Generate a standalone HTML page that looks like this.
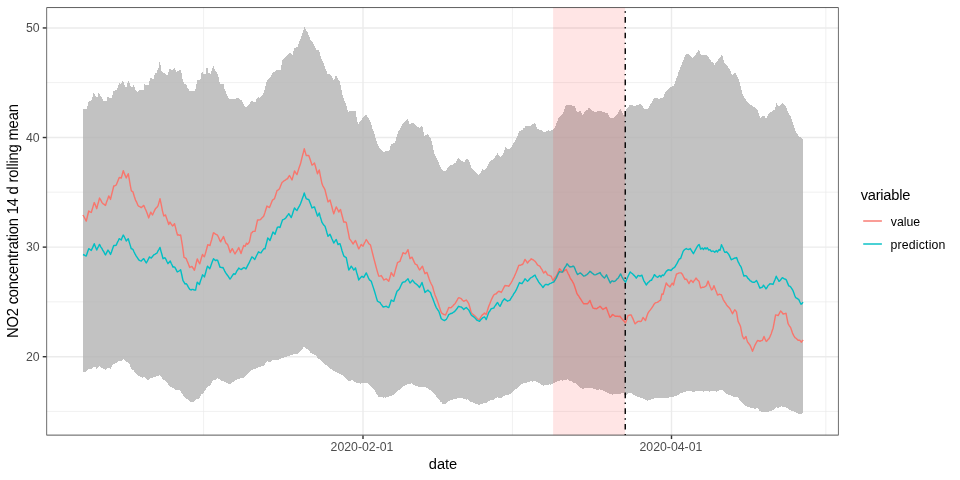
<!DOCTYPE html>
<html lang="en">
<head>
<meta charset="utf-8">
<title>NO2 concentration 14 d rolling mean</title>
<style>
html,body{margin:0;padding:0;background:#fff;}
body{width:960px;height:480px;overflow:hidden;font-family:"Liberation Sans",Arial,Helvetica,sans-serif;}
svg text{white-space:pre;}
</style>
</head>
<body>
<svg width="960" height="480" viewBox="0 0 960 480" style="display:block">
<rect x="0" y="0" width="960" height="480" fill="#ffffff"/>
<clipPath id="panel"><rect x="46.40" y="7.33" width="792.25" height="428.07"/></clipPath>
<g clip-path="url(#panel)">
<g stroke="#ebebeb" stroke-width="0.71" fill="none">
<line x1="46.4" x2="838.6" y1="82.60" y2="82.60"/>
<line x1="46.4" x2="838.6" y1="192.20" y2="192.20"/>
<line x1="46.4" x2="838.6" y1="301.80" y2="301.80"/>
<line x1="46.4" x2="838.6" y1="411.40" y2="411.40"/>
<line y1="7.3" y2="435.4" x1="203.60" x2="203.60"/>
<line y1="7.3" y2="435.4" x1="512.40" x2="512.40"/>
<line y1="7.3" y2="435.4" x1="825.80" x2="825.80"/>
</g>
<g stroke="#ebebeb" stroke-width="1.42" fill="none">
<line x1="46.4" x2="838.6" y1="27.95" y2="27.95"/>
<line x1="46.4" x2="838.6" y1="137.53" y2="137.53"/>
<line x1="46.4" x2="838.6" y1="247.12" y2="247.12"/>
<line x1="46.4" x2="838.6" y1="356.70" y2="356.70"/>
<line y1="7.3" y2="435.4" x1="363.00" x2="363.00"/>
<line y1="7.3" y2="435.4" x1="671.50" x2="671.50"/>
</g>
<polygon points="83.10,109.00 84.05,108.78 85.00,109.17 85.95,109.17 86.90,109.13 88.10,102.14 89.05,101.51 90.00,101.12 90.95,100.38 91.90,100.08 93.10,93.37 94.40,93.76 95.33,95.24 96.25,97.18 97.00,97.01 97.75,97.02 98.75,91.54 100.00,94.83 100.95,96.35 101.90,97.97 102.95,99.88 104.00,101.11 105.25,101.28 106.50,101.12 107.75,96.59 108.88,97.70 110.00,98.21 110.95,97.71 111.90,97.88 113.10,91.50 114.05,91.10 115.00,90.27 115.95,89.94 116.90,89.70 118.10,85.57 119.40,83.43 120.60,84.26 121.55,83.11 122.50,81.36 123.75,82.07 125.00,86.97 125.95,86.95 126.90,86.99 127.75,81.77 128.75,80.31 130.00,85.58 131.25,87.13 132.00,86.98 132.75,87.26 133.75,84.91 135.00,88.74 135.95,90.42 136.90,91.86 137.82,91.37 138.75,91.50 139.50,89.90 140.56,89.76 141.62,89.73 142.69,89.88 143.75,89.85 144.40,84.45 145.49,84.96 146.57,84.60 147.66,85.05 148.75,85.16 150.00,78.34 151.00,78.18 152.00,78.78 153.00,78.80 154.00,78.55 154.75,73.63 155.82,73.35 156.90,73.23 157.50,69.54 158.75,67.01 159.40,62.14 160.60,65.73 161.50,70.55 162.30,71.62 163.10,72.12 164.05,73.10 165.00,73.14 165.75,74.25 166.50,74.90 167.30,74.81 168.10,74.43 169.00,70.03 170.00,68.05 171.25,70.33 172.00,69.86 172.75,69.68 173.57,68.62 174.40,68.17 175.32,69.65 176.25,71.80 177.18,71.19 178.10,71.30 179.18,70.18 180.25,69.02 181.50,72.93 182.50,79.38 183.25,81.56 184.00,83.85 185.00,83.75 186.00,84.58 186.75,85.91 187.50,88.03 188.45,89.34 189.40,91.04 190.33,90.62 191.27,90.97 192.20,90.88 193.13,91.30 194.07,90.56 195.00,90.94 196.00,86.25 197.25,80.17 198.37,79.82 199.48,79.58 200.60,79.46 201.25,74.33 202.25,71.08 203.50,73.75 204.55,74.12 205.60,73.84 206.25,69.31 207.25,66.07 208.50,73.23 209.75,73.21 211.00,73.78 211.90,68.70 212.70,67.27 213.50,66.17 214.75,70.14 215.62,71.24 216.50,72.33 217.30,73.66 218.10,74.85 219.00,79.49 220.00,84.04 220.88,83.65 221.75,84.45 222.62,84.02 223.50,84.39 224.75,90.02 225.82,92.05 226.90,94.32 227.82,96.64 228.75,98.87 229.84,99.43 230.93,98.85 232.01,99.59 233.10,99.30 233.75,98.03 235.00,99.96 236.00,98.83 237.05,97.79 238.10,97.20 239.05,98.07 240.00,99.14 240.75,99.82 241.50,99.59 242.30,101.46 243.10,102.97 243.93,105.07 244.75,106.44 245.82,107.23 246.90,107.27 247.82,105.79 248.75,104.82 250.00,102.77 251.25,101.13 252.18,101.13 253.10,101.89 254.35,101.78 255.60,101.84 256.50,99.11 257.50,97.87 258.50,97.33 259.25,97.82 260.00,98.26 261.00,96.72 262.00,95.68 263.00,93.85 264.00,92.53 265.00,88.44 266.00,84.47 267.00,80.14 268.00,78.99 269.00,78.34 270.00,78.01 271.25,75.53 272.50,72.51 273.38,71.82 274.25,71.92 275.12,70.82 276.00,70.35 277.12,69.97 278.25,69.83 279.38,70.33 280.50,69.86 281.50,65.19 282.50,60.13 283.38,59.45 284.25,58.28 285.12,56.93 286.00,56.04 287.00,55.30 288.00,54.19 289.00,52.92 289.88,53.61 290.75,53.40 291.62,53.95 292.50,54.68 293.50,51.22 294.50,47.92 295.50,47.92 296.50,47.29 297.50,46.82 298.38,44.20 299.25,42.03 300.12,39.72 301.00,37.66 301.88,34.65 302.75,32.57 303.62,29.94 304.50,26.97 305.50,29.28 306.50,30.90 307.50,32.49 308.50,34.62 309.50,37.13 310.50,39.64 311.38,40.78 312.25,41.72 313.12,43.14 314.00,44.49 315.00,46.97 316.00,50.03 317.00,49.58 318.00,50.29 319.00,49.88 320.00,53.64 321.00,58.03 321.88,59.70 322.75,62.10 323.62,63.62 324.50,65.51 325.50,68.63 326.50,70.91 327.50,74.09 328.38,74.26 329.25,74.19 330.12,74.79 331.00,74.33 332.00,76.99 333.00,78.51 334.00,81.12 335.00,77.69 336.00,74.84 337.00,76.88 338.00,79.13 339.00,80.41 340.00,82.50 341.00,87.60 342.00,92.27 343.00,97.51 344.00,99.23 345.00,101.79 346.00,104.09 347.00,108.11 348.00,112.40 349.00,111.43 350.00,111.35 351.00,110.47 352.12,111.00 353.25,110.97 354.38,110.52 355.50,111.15 356.75,117.89 358.00,124.11 359.00,122.96 360.00,121.50 361.00,120.08 362.00,119.05 363.00,117.88 364.00,116.48 365.00,115.27 366.00,114.58 367.00,116.21 368.00,117.35 369.00,119.50 370.00,121.04 371.00,123.89 372.00,127.00 373.00,129.96 374.00,132.46 374.88,135.66 375.75,138.25 376.62,141.19 377.50,143.97 378.38,145.89 379.25,146.95 380.12,148.91 381.00,149.94 381.88,150.66 382.75,151.37 383.62,151.67 384.50,151.96 385.62,151.37 386.75,151.48 387.88,151.17 389.00,151.11 390.00,148.01 391.00,144.68 392.00,143.95 393.00,143.42 394.00,143.06 395.00,142.59 396.00,138.79 397.00,135.58 398.00,132.37 399.00,130.47 400.00,128.57 401.00,127.30 402.00,124.89 403.00,124.06 404.00,122.15 405.00,120.89 406.25,120.43 407.50,118.85 408.50,121.40 409.50,124.37 410.38,123.61 411.25,123.40 412.12,122.74 413.00,122.38 414.00,123.23 415.00,125.01 416.00,125.84 417.00,126.26 418.00,127.06 419.00,127.85 420.00,128.06 421.00,126.69 422.00,125.07 423.25,130.77 424.50,136.13 425.38,135.19 426.25,134.60 427.12,134.61 428.00,134.01 429.00,135.69 430.00,137.59 431.00,138.88 431.88,142.94 432.75,146.43 433.62,150.18 434.50,153.91 435.38,155.55 436.25,157.57 437.12,159.30 438.00,161.15 439.00,163.18 440.00,165.94 441.00,167.76 442.00,170.55 443.00,170.19 444.00,170.82 445.00,170.92 446.00,170.41 447.00,169.28 448.00,167.25 449.00,165.93 449.88,165.27 450.75,165.20 451.62,164.52 452.50,164.57 453.50,163.90 454.50,163.09 455.50,162.58 456.75,160.01 458.00,157.94 459.00,158.88 460.00,159.55 461.00,161.14 462.00,160.96 463.00,161.31 464.00,162.11 465.00,160.95 466.00,159.29 467.00,157.97 468.25,159.93 469.50,162.32 470.75,165.77 472.00,168.91 473.00,169.35 474.00,170.70 475.00,170.83 476.00,172.21 477.00,173.89 478.00,175.09 479.00,174.15 480.00,174.09 481.25,171.56 482.50,169.05 483.75,169.90 485.00,170.11 486.25,168.09 487.50,166.10 488.75,163.49 490.00,161.02 491.00,160.79 492.00,160.11 493.00,159.39 494.00,158.83 494.88,157.76 495.75,155.86 496.62,154.44 497.50,152.92 498.75,155.05 500.00,156.96 501.00,156.63 502.00,155.75 503.00,155.02 504.25,151.25 505.50,146.98 506.75,148.28 508.00,149.59 509.00,149.20 510.00,148.72 511.00,148.14 512.00,146.22 513.00,144.38 514.00,142.39 515.00,140.77 516.00,139.48 516.88,137.37 517.75,135.61 518.62,132.71 519.50,130.95 520.50,130.88 521.50,130.30 522.50,130.13 523.50,128.36 524.50,127.58 525.50,125.98 526.38,126.06 527.25,125.60 528.12,125.91 529.00,126.11 530.00,125.88 531.00,125.39 532.00,124.97 533.00,123.75 534.00,123.51 535.00,122.48 536.25,125.95 537.50,129.04 538.38,129.16 539.25,129.84 540.12,129.42 541.00,130.17 542.00,130.46 543.00,132.09 544.00,132.53 544.88,132.08 545.75,132.14 546.62,131.39 547.50,131.00 548.50,130.40 549.50,130.87 550.50,130.53 551.50,129.97 552.50,129.86 553.50,128.59 554.50,127.73 555.50,126.13 556.38,123.72 557.25,121.08 558.12,119.55 559.00,116.89 559.88,116.46 560.75,115.50 561.62,115.17 562.50,113.87 563.38,112.01 564.25,109.70 565.12,106.82 566.00,105.02 567.00,104.82 568.00,105.18 569.00,105.42 570.00,105.06 571.12,105.24 572.25,105.59 573.38,105.52 574.50,105.99 575.75,108.90 577.00,112.58 577.88,111.73 578.75,111.77 579.62,111.09 580.50,111.02 581.50,112.60 582.50,114.83 583.50,113.78 584.50,112.53 585.50,111.14 586.50,110.41 587.50,109.95 588.50,108.43 589.50,108.05 590.50,109.12 591.50,109.71 592.50,110.87 593.38,111.02 594.25,111.52 595.12,112.01 596.00,112.08 597.00,111.69 598.00,110.87 599.00,111.07 600.00,110.50 601.00,110.70 602.00,111.61 603.00,111.77 604.00,112.43 605.00,112.46 606.00,112.73 607.00,112.36 608.00,114.28 609.00,115.93 610.00,118.06 611.00,118.28 612.00,117.79 613.00,118.20 614.00,117.99 614.88,116.75 615.75,115.80 616.62,115.03 617.50,114.11 618.50,112.42 619.50,110.22 620.50,109.10 621.38,110.82 622.25,112.43 623.12,114.02 624.00,115.98 625.00,113.17 626.00,109.92 627.00,108.30 628.00,107.59 629.00,105.82 630.00,104.35 631.00,105.23 632.00,104.90 633.00,105.50 634.00,106.04 634.88,105.90 635.75,105.86 636.62,104.96 637.50,105.02 638.38,105.09 639.25,104.47 640.12,104.44 641.00,103.99 642.00,105.57 643.00,107.16 644.00,107.98 645.00,109.59 646.00,109.19 647.00,109.52 648.00,109.10 649.00,107.32 650.00,105.34 651.00,103.03 652.00,102.03 653.00,99.94 654.00,98.94 655.00,97.35 656.00,97.95 657.00,98.42 658.00,98.43 659.00,99.11 660.00,98.68 661.00,98.23 662.00,97.97 663.00,98.03 664.00,95.56 665.00,92.93 666.00,90.93 667.00,90.68 668.00,89.48 669.00,88.91 670.00,87.97 671.00,86.99 672.00,86.85 673.00,85.86 674.00,85.36 675.00,82.86 676.00,80.06 676.88,77.06 677.75,75.40 678.62,72.07 679.50,69.88 680.50,67.18 681.50,64.93 682.50,62.09 683.38,60.22 684.25,57.94 685.12,56.37 686.00,53.87 686.88,54.66 687.75,54.10 688.62,54.44 689.50,55.09 690.50,56.24 691.50,57.16 692.50,57.91 693.50,57.33 694.50,56.01 695.50,54.89 696.38,53.39 697.25,52.94 698.12,50.85 699.00,49.90 700.00,52.37 701.00,55.14 702.00,55.30 703.00,55.31 704.00,55.12 705.00,54.82 706.00,55.55 707.00,55.39 708.00,56.16 709.25,58.67 710.50,60.34 711.50,61.71 712.50,62.27 713.50,63.14 714.50,64.63 715.50,63.28 716.50,61.98 717.50,61.02 718.62,58.98 719.75,57.68 720.88,56.26 722.00,54.63 723.00,57.91 724.00,62.14 725.00,62.98 726.00,64.40 727.00,65.94 728.00,67.04 729.00,68.30 730.00,70.06 731.00,72.41 732.00,74.89 732.88,74.39 733.75,73.41 734.62,73.29 735.50,72.67 736.38,74.35 737.25,76.18 738.12,78.03 739.00,79.95 740.00,84.09 741.00,88.04 742.00,92.43 743.00,94.84 744.00,96.81 745.00,98.84 746.00,99.93 747.00,101.81 748.00,102.62 749.00,104.12 749.88,104.61 750.75,105.11 751.62,105.37 752.50,106.03 753.62,106.67 754.75,107.51 755.88,108.65 757.00,108.86 757.88,110.87 758.75,113.61 759.62,115.76 760.50,117.61 761.38,117.32 762.25,116.14 763.12,116.20 764.00,115.36 765.00,117.56 766.00,118.96 767.00,116.99 768.00,115.02 769.00,112.89 769.88,112.56 770.75,112.33 771.62,111.45 772.50,110.98 773.75,110.38 775.00,109.89 775.75,106.06 776.50,102.62 777.75,105.17 779.00,106.95 779.88,105.81 780.75,104.85 781.62,104.33 782.50,102.91 783.50,103.71 784.50,104.83 785.50,105.85 786.75,108.93 788.00,112.40 789.25,114.39 790.50,116.15 791.75,119.78 793.00,123.93 794.00,126.91 795.00,129.24 796.00,132.35 796.88,133.69 797.75,134.72 798.62,135.74 799.50,136.97 800.38,137.32 801.25,138.28 802.12,138.96 803.00,139.91 803.00,413.09 802.00,413.83 801.00,413.72 800.00,414.48 799.06,414.17 798.12,413.51 797.19,412.66 796.25,412.58 795.31,411.99 794.38,411.87 793.44,411.26 792.50,410.63 791.56,410.66 790.62,410.42 789.69,410.02 788.75,409.39 787.50,408.35 786.25,407.40 785.00,407.08 783.75,406.99 782.50,406.97 781.25,406.13 780.00,406.88 778.75,407.87 777.50,407.71 776.25,407.37 775.00,408.44 773.75,409.87 772.50,410.44 771.25,410.58 770.31,411.19 769.38,411.10 768.44,411.77 767.50,411.90 766.56,412.24 765.62,412.27 764.69,412.32 763.75,412.38 762.81,411.99 761.88,412.19 760.94,411.55 760.00,411.39 758.75,409.60 757.50,408.05 756.25,408.60 755.00,408.61 754.06,408.60 753.12,408.04 752.19,407.88 751.25,408.02 750.31,407.68 749.38,407.28 748.44,406.95 747.50,407.13 746.56,406.40 745.62,405.65 744.69,404.94 743.75,404.44 742.50,402.83 741.25,401.33 740.31,400.60 739.38,399.37 738.44,398.35 737.50,397.40 736.50,397.14 735.50,396.99 734.50,396.54 733.50,396.67 732.50,396.17 731.56,395.66 730.62,395.36 729.69,395.28 728.75,395.06 727.81,394.42 726.88,394.07 725.94,393.00 725.00,392.49 724.00,391.47 723.00,390.97 722.00,390.02 720.88,390.45 719.75,390.44 718.62,390.67 717.50,391.15 716.50,391.55 715.50,390.99 714.50,391.50 713.50,391.49 712.50,391.27 711.50,391.40 710.50,390.92 709.50,391.56 708.50,391.05 707.50,391.14 706.50,390.99 705.50,391.23 704.50,390.93 703.50,391.55 702.50,391.19 701.56,391.12 700.62,390.99 699.69,390.60 698.75,390.47 697.75,390.60 696.75,391.26 695.75,391.18 694.75,391.91 693.75,391.99 692.81,391.95 691.88,391.18 690.94,391.05 690.00,390.49 689.06,390.84 688.12,390.78 687.19,391.27 686.25,391.18 685.31,391.87 684.38,392.14 683.44,392.40 682.50,392.52 681.56,392.67 680.62,393.43 679.69,393.77 678.75,394.48 677.81,394.66 676.88,395.36 675.94,395.85 675.00,396.14 674.00,396.73 673.00,396.69 672.00,396.84 671.00,397.27 670.00,397.55 669.00,397.39 668.00,397.96 667.00,397.79 666.00,397.69 665.00,397.91 664.00,398.01 663.00,398.08 662.00,397.84 661.00,397.76 660.00,398.05 659.00,397.87 658.00,397.85 657.00,398.29 656.00,398.10 655.00,397.86 654.06,398.56 653.12,398.73 652.19,398.84 651.25,399.49 650.31,399.58 649.38,400.13 648.44,400.47 647.50,400.52 646.56,399.80 645.62,399.66 644.69,399.04 643.75,398.69 642.81,398.28 641.88,398.30 640.94,397.78 640.00,397.50 639.06,396.91 638.12,396.68 637.19,396.82 636.25,396.17 635.31,395.73 634.38,394.71 633.44,394.69 632.50,393.70 631.56,393.35 630.62,393.40 629.69,392.54 628.75,392.54 627.67,394.02 626.58,395.30 625.50,396.18 624.25,394.70 623.00,392.52 622.00,393.26 621.00,393.62 620.00,393.79 619.06,393.82 618.12,393.84 617.19,393.90 616.25,393.85 615.31,393.80 614.38,394.37 613.44,394.23 612.50,394.51 611.56,394.53 610.62,393.86 609.69,393.87 608.75,393.65 607.81,393.04 606.88,392.42 605.94,391.95 605.00,391.32 604.06,391.28 603.12,390.80 602.19,390.02 601.25,389.88 600.31,389.54 599.38,389.42 598.44,389.97 597.50,389.50 596.56,389.65 595.62,389.02 594.69,388.59 593.75,388.76 592.81,388.39 591.88,388.43 590.94,388.11 590.00,387.45 589.06,387.64 588.12,387.95 587.19,387.65 586.25,387.95 585.31,388.31 584.38,388.05 583.44,388.55 582.50,388.69 581.56,388.12 580.62,387.70 579.69,386.88 578.75,386.33 577.81,385.56 576.88,384.89 575.94,383.75 575.00,383.13 574.06,382.78 573.12,382.45 572.19,381.51 571.25,381.20 570.31,381.00 569.38,380.61 568.44,380.10 567.50,379.37 566.56,379.63 565.62,379.72 564.69,380.35 563.75,380.36 562.81,380.58 561.88,380.45 560.94,380.22 560.00,380.37 559.06,381.12 558.12,380.91 557.19,381.65 556.25,381.86 555.31,382.67 554.38,382.96 553.44,383.53 552.50,383.77 551.50,383.88 550.50,384.52 549.50,384.44 548.50,384.56 547.50,384.86 546.50,385.45 545.50,384.91 544.50,385.02 543.50,385.66 542.50,385.42 541.56,384.88 540.62,384.13 539.69,383.30 538.75,383.12 537.81,382.42 536.88,381.80 535.94,381.46 535.00,381.35 534.06,381.32 533.12,381.49 532.19,381.55 531.25,381.23 530.31,381.13 529.38,381.93 528.44,381.63 527.50,382.05 526.56,382.56 525.62,382.73 524.69,382.91 523.75,383.00 522.81,383.48 521.88,384.41 520.94,384.54 520.00,385.46 519.06,386.23 518.12,387.30 517.19,387.92 516.25,388.85 515.31,389.46 514.38,390.34 513.44,391.34 512.50,392.12 511.56,393.06 510.62,393.81 509.69,394.24 508.75,395.07 507.81,395.31 506.88,395.30 505.94,395.38 505.00,395.44 504.06,396.27 503.12,396.57 502.19,397.30 501.25,397.97 500.31,397.80 499.38,398.06 498.44,397.59 497.50,397.48 496.56,398.32 495.62,398.32 494.69,398.89 493.75,399.36 492.81,399.96 491.88,400.03 490.94,400.13 490.00,400.44 489.06,401.07 488.12,401.63 487.19,402.71 486.25,402.87 485.31,403.29 484.38,403.11 483.44,403.43 482.50,403.86 481.56,403.94 480.62,404.43 479.69,404.62 478.75,404.63 477.81,404.41 476.88,404.27 475.94,403.91 475.00,403.86 474.06,403.00 473.12,402.69 472.19,402.40 471.25,402.12 470.31,401.38 469.38,400.69 468.44,400.37 467.50,399.36 466.56,399.53 465.62,399.34 464.69,398.75 463.75,398.88 462.81,398.37 461.88,398.42 460.94,398.47 460.00,397.95 459.06,398.30 458.12,398.54 457.19,398.22 456.25,398.68 455.31,398.89 454.38,399.17 453.44,399.48 452.50,400.04 451.56,400.13 450.62,400.36 449.69,401.26 448.75,401.16 447.81,401.92 446.88,402.70 445.94,403.55 445.00,404.56 443.75,404.15 442.50,403.87 441.56,402.44 440.62,401.94 439.69,400.70 438.75,399.63 437.81,398.29 436.88,397.23 435.94,395.64 435.00,394.48 434.06,393.82 433.12,392.27 432.19,391.45 431.25,390.62 430.31,390.17 429.38,389.45 428.44,388.63 427.50,387.89 426.56,387.57 425.62,387.41 424.69,386.94 423.75,386.86 422.81,386.97 421.88,386.68 420.94,387.09 420.00,387.08 419.06,387.14 418.12,386.59 417.19,386.28 416.25,386.20 415.31,385.90 414.38,384.90 413.44,384.71 412.50,383.80 411.56,383.45 410.62,383.67 409.69,383.73 408.75,383.74 407.81,383.91 406.88,384.91 405.94,384.87 405.00,385.52 404.06,385.84 403.12,386.92 402.19,387.08 401.25,388.09 400.31,388.90 399.38,389.88 398.44,390.18 397.50,391.26 396.56,391.98 395.62,393.05 394.69,393.71 393.75,394.42 392.81,395.00 391.88,395.19 390.94,396.04 390.00,396.34 389.06,396.27 388.12,397.06 387.19,397.38 386.25,397.48 385.31,397.69 384.38,397.23 383.44,397.57 382.50,397.47 381.56,397.18 380.62,397.49 379.69,396.86 378.75,397.08 377.81,395.35 376.88,393.90 375.94,392.97 375.00,391.20 374.06,389.66 373.12,388.70 372.19,387.85 371.25,386.34 370.31,385.33 369.38,384.66 368.44,384.06 367.50,382.96 366.56,382.77 365.62,382.82 364.69,382.61 363.75,382.47 362.81,382.68 361.88,383.41 360.94,383.50 360.00,383.65 359.06,383.26 358.12,383.38 357.19,382.85 356.25,383.08 355.31,382.02 354.38,381.82 353.44,380.66 352.50,380.04 351.56,380.30 350.62,380.75 349.69,380.95 348.75,381.15 347.81,380.21 346.88,379.41 345.94,377.90 345.00,377.10 344.06,376.12 343.12,375.85 342.19,374.90 341.25,374.45 340.31,374.23 339.38,373.50 338.44,372.89 337.50,372.57 336.56,372.17 335.62,371.95 334.69,371.48 333.75,371.30 332.81,370.35 331.88,369.40 330.94,368.96 330.00,368.04 329.06,367.42 328.12,366.31 327.19,365.70 326.25,365.08 325.31,364.35 324.38,363.63 323.44,362.87 322.50,361.87 321.56,361.23 320.62,360.63 319.69,359.28 318.75,358.68 317.81,358.06 316.88,356.70 315.94,355.75 315.00,354.92 314.06,354.23 313.12,354.01 312.19,353.42 311.25,352.99 310.31,352.38 309.38,350.92 308.44,350.16 307.50,349.48 306.56,349.20 305.62,348.38 304.69,347.57 303.75,347.08 302.50,348.80 301.25,350.48 300.31,351.01 299.38,352.41 298.44,352.90 297.50,353.84 296.50,353.77 295.50,354.08 294.50,353.81 293.42,354.55 292.33,355.24 291.25,355.40 290.31,355.36 289.38,356.18 288.44,355.95 287.50,356.23 286.56,356.49 285.62,357.12 284.69,357.47 283.75,357.62 282.81,358.15 281.88,357.94 280.94,358.79 280.00,358.61 279.06,359.29 278.12,359.75 277.19,359.89 276.25,360.63 275.17,360.19 274.08,360.19 273.00,360.00 272.00,360.87 271.00,361.30 270.00,361.86 268.75,361.69 267.50,361.22 266.56,362.06 265.62,363.24 264.69,364.64 263.75,365.38 262.75,366.10 261.75,366.33 260.75,366.66 259.75,367.04 258.75,366.98 257.81,367.69 256.88,367.59 255.94,368.34 255.00,368.87 254.06,369.19 253.12,369.07 252.19,369.94 251.25,370.12 250.31,370.92 249.38,371.71 248.44,372.75 247.50,373.62 246.56,374.73 245.62,375.73 244.69,376.87 243.75,377.46 242.81,377.92 241.88,378.23 240.94,378.24 240.00,378.80 239.06,378.82 238.12,379.53 237.19,379.44 236.25,379.92 235.31,380.37 234.38,381.20 233.44,381.78 232.50,382.43 231.25,383.70 230.00,384.47 229.00,384.03 228.00,383.46 227.00,382.93 225.92,382.17 224.83,381.97 223.75,381.17 222.50,380.97 221.25,381.18 220.17,380.05 219.08,379.06 218.00,378.12 216.75,378.57 215.50,379.53 214.25,380.04 213.00,379.95 212.12,381.75 211.25,383.16 210.38,385.01 209.50,386.22 208.25,386.53 207.00,387.10 205.92,388.84 204.83,390.85 203.75,392.62 202.50,393.57 201.25,394.52 200.00,396.91 198.75,399.57 197.50,398.98 196.25,398.87 195.00,400.70 193.75,402.43 192.81,402.21 191.88,402.51 190.94,401.94 190.00,401.92 188.75,400.50 187.50,399.37 186.25,398.58 185.00,397.96 183.75,396.56 182.50,394.44 181.25,392.56 180.00,390.64 179.06,390.37 178.12,390.17 177.19,390.42 176.25,390.43 175.31,389.85 174.38,389.34 173.44,388.41 172.50,387.94 171.56,387.08 170.62,386.81 169.69,385.80 168.75,384.96 167.50,383.45 166.25,382.12 165.31,381.33 164.38,380.04 163.44,379.61 162.50,378.81 161.25,376.63 160.00,374.88 158.75,375.93 157.50,376.35 156.25,376.44 155.00,376.99 154.06,376.97 153.12,377.57 152.19,377.71 151.25,378.00 150.17,378.64 149.08,379.36 148.00,380.05 147.00,379.15 146.00,378.05 145.00,377.51 143.75,377.23 142.50,377.57 141.50,376.75 140.50,376.51 139.50,376.14 138.42,375.64 137.33,374.31 136.25,373.75 135.00,372.33 133.75,370.42 132.50,369.59 131.25,368.66 130.00,365.63 128.75,362.60 127.50,362.22 126.25,362.41 125.00,360.72 123.75,358.77 122.50,359.73 121.25,361.30 120.25,361.14 119.25,360.53 118.25,361.29 117.25,362.51 116.25,362.97 115.00,363.71 113.75,363.67 112.67,365.12 111.58,366.97 110.50,368.64 109.25,368.23 108.00,367.41 106.75,368.86 105.50,370.01 104.62,369.25 103.75,369.09 102.88,368.71 102.00,367.93 100.75,367.03 99.50,366.36 98.58,366.89 97.67,367.65 96.75,368.83 95.50,367.43 94.25,366.30 93.25,366.95 92.25,368.03 91.25,368.82 90.00,368.58 88.75,368.69 87.50,370.31 86.25,371.29 85.17,371.64 84.08,371.47 83.00,372.00" fill="#b3b3b3" fill-opacity="0.8" stroke="none" shape-rendering="crispEdges"/>
<polyline points="83.00,215.00 84.08,216.97 85.17,219.04 86.25,221.10 87.50,215.98 88.75,211.00 90.00,211.80 91.25,212.42 92.25,209.17 93.25,205.91 94.25,202.57 95.50,205.38 96.75,208.70 97.67,204.92 98.58,201.77 99.50,198.05 100.75,199.98 102.00,202.62 102.88,203.53 103.75,204.09 104.62,204.82 105.50,205.42 106.58,202.04 107.67,199.18 108.75,195.89 109.62,197.56 110.50,199.44 111.58,194.72 112.67,190.48 113.75,185.99 115.00,185.71 116.25,185.00 117.25,182.58 118.25,180.00 119.25,177.54 120.25,177.72 121.25,177.95 122.25,174.55 123.25,170.62 124.25,173.20 125.25,175.62 126.25,177.96 127.25,175.71 128.25,173.70 129.25,179.08 130.25,185.08 131.25,190.48 132.12,191.46 133.00,191.97 134.25,196.27 135.50,200.08 136.75,202.45 138.00,205.43 139.08,206.41 140.17,206.82 141.25,207.62 142.50,206.44 143.75,205.40 145.00,208.33 146.25,211.07 147.50,214.36 148.75,217.90 149.75,214.90 150.75,212.11 151.62,213.65 152.50,214.91 153.50,212.76 154.50,210.59 155.50,208.64 156.75,207.55 158.00,205.92 159.00,202.41 160.00,198.74 161.25,204.69 162.50,211.06 163.75,215.91 164.62,215.59 165.50,214.91 166.58,218.12 167.67,221.16 168.75,224.44 170.00,222.11 171.25,224.18 172.50,225.95 173.50,225.11 174.50,223.68 175.50,227.44 176.50,231.46 177.50,235.03 178.53,234.76 179.57,235.29 180.60,234.93 181.55,240.35 182.50,246.07 183.25,251.65 184.00,257.45 185.12,257.87 186.25,258.65 187.12,260.99 188.00,262.97 188.88,265.37 189.75,267.47 190.82,266.85 191.90,266.36 193.15,268.24 194.40,270.27 195.35,266.72 196.30,262.56 197.25,258.92 198.50,261.62 199.75,263.83 200.67,260.48 201.58,257.33 202.50,254.46 203.45,255.91 204.40,256.83 205.52,253.12 206.63,249.03 207.75,244.77 208.88,245.13 210.00,245.50 210.88,242.11 211.75,239.45 212.62,235.81 213.50,232.80 214.50,233.23 215.50,234.19 216.50,234.68 217.50,235.20 218.53,237.27 219.57,239.82 220.60,241.80 221.57,239.94 222.53,238.34 223.50,236.58 224.55,239.57 225.60,242.45 226.55,243.70 227.50,244.33 228.42,246.81 229.33,249.66 230.25,252.49 231.25,250.36 232.25,248.67 233.17,250.42 234.08,252.29 235.00,253.91 235.94,252.29 236.88,250.98 237.81,249.41 238.75,247.54 239.88,250.61 241.00,253.52 241.92,250.65 242.83,247.95 243.75,245.48 244.50,246.17 245.25,246.30 246.50,243.11 247.50,244.29 248.45,243.23 249.40,241.90 250.32,237.59 251.25,232.96 252.12,232.55 253.00,231.40 254.00,231.40 255.00,231.31 256.25,225.87 257.50,220.06 258.50,219.96 259.50,219.84 260.50,219.60 261.58,218.24 262.67,217.28 263.75,216.10 264.83,212.89 265.92,209.28 267.00,206.07 268.25,206.97 269.50,207.52 270.50,205.07 271.50,202.43 272.50,200.02 273.50,199.44 274.50,198.65 275.75,194.71 277.00,190.62 278.25,189.85 279.50,188.80 280.75,185.56 282.00,182.56 283.25,181.55 284.50,180.49 285.50,180.12 286.50,179.08 287.50,178.81 288.50,176.84 289.50,175.52 290.75,177.74 292.00,179.94 293.25,175.62 294.50,171.00 295.75,172.82 297.00,174.60 297.88,171.67 298.75,168.83 299.62,166.32 300.50,163.79 301.44,159.82 302.38,156.05 303.31,152.74 304.25,148.79 305.25,152.09 306.25,155.59 307.50,155.40 308.75,155.54 309.83,158.49 310.92,161.79 312.00,165.07 313.25,164.25 314.50,163.09 315.50,166.51 316.50,170.22 317.50,173.71 318.38,171.66 319.25,170.00 320.17,174.79 321.08,179.38 322.00,183.80 323.00,186.10 324.00,187.78 325.00,189.92 326.00,193.97 327.00,197.87 328.00,201.93 329.00,200.95 330.00,200.03 330.94,203.43 331.88,206.76 332.81,210.52 333.75,213.87 335.00,210.35 336.25,206.90 337.50,209.22 338.75,212.09 339.62,210.47 340.50,209.55 341.58,213.71 342.67,217.72 343.75,222.07 345.00,221.96 346.25,222.41 347.33,227.89 348.42,233.05 349.50,238.83 350.38,239.90 351.25,241.16 352.12,242.42 353.00,244.03 354.25,242.22 355.50,240.53 356.58,243.34 357.67,246.18 358.75,248.86 360.00,246.74 361.25,244.43 362.12,245.36 363.00,246.17 364.08,243.71 365.17,241.73 366.25,239.55 367.50,241.43 368.75,243.70 369.62,244.28 370.50,245.05 371.58,249.35 372.67,253.74 373.75,258.06 375.00,262.69 376.25,267.57 377.50,272.12 378.75,276.15 380.00,276.13 381.25,275.55 382.50,277.53 383.75,279.99 385.00,279.45 386.25,278.85 387.50,279.93 388.75,281.27 390.00,277.10 391.25,272.57 392.50,274.64 393.75,276.24 394.69,272.90 395.62,269.20 396.56,266.07 397.50,262.58 398.75,261.96 400.00,261.30 401.00,258.16 402.00,255.66 403.00,252.62 404.25,253.41 405.50,253.76 406.75,251.92 408.00,249.71 409.00,254.37 410.00,258.59 411.00,257.78 412.00,257.15 413.00,259.38 414.00,261.61 415.00,263.81 416.00,264.37 417.00,264.89 418.25,267.69 419.50,269.90 420.50,268.93 421.50,267.30 422.50,266.21 423.75,270.17 425.00,273.66 426.00,272.91 427.00,272.50 428.00,275.55 429.00,278.54 430.00,281.30 431.25,284.02 432.50,286.25 433.75,290.89 435.00,294.90 436.25,297.96 437.50,301.26 438.44,303.94 439.38,307.01 440.31,309.77 441.25,312.51 442.50,313.71 443.75,314.51 444.62,314.64 445.50,314.97 446.58,312.71 447.67,310.24 448.75,307.43 450.00,307.71 451.25,307.61 452.19,306.58 453.12,305.67 454.06,304.51 455.00,303.76 455.94,302.19 456.88,300.69 457.81,298.78 458.75,297.61 460.00,298.13 461.25,298.73 462.50,300.18 463.75,301.27 465.00,300.62 466.25,300.05 467.50,301.61 468.75,303.76 470.00,308.07 471.25,312.61 472.50,314.00 473.75,314.94 474.69,315.92 475.62,316.65 476.56,317.77 477.50,318.83 478.50,319.37 479.50,319.49 480.50,317.72 481.50,315.98 482.50,314.53 483.50,314.01 484.50,312.91 485.38,313.92 486.25,314.39 487.50,310.19 488.75,306.18 490.00,303.24 491.25,299.96 492.50,297.41 493.75,295.03 495.00,294.14 496.25,293.81 497.50,292.27 498.75,291.25 500.00,291.73 501.25,292.43 502.19,290.77 503.12,288.96 504.06,287.18 505.00,285.48 505.94,285.71 506.88,285.67 507.81,285.89 508.75,286.28 510.00,284.46 511.25,282.51 512.19,280.84 513.12,278.82 514.06,277.09 515.00,274.94 515.94,272.77 516.88,270.44 517.81,268.12 518.75,265.46 519.69,265.14 520.62,265.25 521.56,264.58 522.50,264.62 523.75,262.23 525.00,259.41 526.25,261.09 527.50,263.05 528.44,261.79 529.38,260.63 530.31,260.01 531.25,258.73 532.19,259.55 533.12,259.78 534.06,260.57 535.00,261.29 536.25,262.84 537.50,264.93 538.75,265.73 540.00,266.35 540.94,268.22 541.88,269.39 542.81,271.32 543.75,273.06 544.62,272.13 545.50,271.29 546.50,272.94 547.50,274.90 548.44,275.08 549.38,275.35 550.31,275.97 551.25,276.25 552.12,278.42 553.00,280.42 554.08,278.89 555.17,277.49 556.25,276.33 557.33,274.04 558.42,271.51 559.50,268.65 560.50,269.57 561.50,271.19 562.50,271.99 563.44,271.53 564.38,270.65 565.31,270.11 566.25,269.50 567.19,271.46 568.12,273.56 569.06,275.21 570.00,277.55 570.94,279.27 571.88,280.43 572.81,282.16 573.75,283.81 574.83,287.03 575.92,290.23 577.00,293.67 577.88,295.01 578.75,295.96 579.62,297.74 580.50,298.82 581.58,300.54 582.67,302.30 583.75,303.78 584.69,303.69 585.62,303.81 586.56,303.75 587.50,303.87 588.75,302.31 590.00,300.44 591.00,303.25 592.00,305.65 593.00,308.07 594.08,308.44 595.17,308.44 596.25,308.85 597.19,308.35 598.12,307.62 599.06,307.04 600.00,306.31 601.00,307.28 602.00,308.55 603.00,309.40 604.08,308.74 605.17,308.15 606.25,307.38 607.19,309.91 608.12,312.58 609.06,315.07 610.00,317.44 611.25,316.27 612.50,314.54 613.50,314.99 614.50,315.76 615.50,316.27 616.62,316.27 617.75,316.18 618.88,316.55 620.00,316.28 621.00,317.62 622.00,318.91 623.00,320.12 624.25,321.21 625.50,323.03 626.75,319.39 628.00,315.44 629.08,315.27 630.17,314.90 631.25,314.93 632.19,317.11 633.12,319.13 634.06,321.41 635.00,323.85 636.00,322.95 637.00,322.09 638.00,321.36 639.08,321.29 640.17,321.55 641.25,321.28 642.12,319.56 643.00,317.40 644.25,319.06 645.50,320.56 646.75,316.48 648.00,313.10 649.08,311.38 650.17,310.15 651.25,308.67 652.19,307.31 653.12,305.94 654.06,304.17 655.00,303.11 656.00,302.62 657.00,302.35 658.00,302.02 658.87,301.25 659.73,300.54 660.60,300.04 661.90,294.01 663.10,294.35 664.40,289.45 665.33,286.13 666.25,282.98 667.17,284.20 668.10,285.49 669.05,286.04 670.00,286.96 671.12,284.93 672.25,283.20 673.50,285.06 674.25,281.61 675.00,278.87 675.75,276.64 676.50,273.90 677.50,273.79 678.50,273.08 679.75,272.91 681.00,272.86 681.88,273.72 682.75,275.01 683.88,277.46 685.00,279.45 685.75,279.18 686.50,279.11 687.75,281.44 689.00,283.52 690.00,281.64 691.00,280.28 692.05,281.35 693.10,282.43 694.07,280.76 695.03,279.58 696.00,278.01 696.75,279.02 697.50,280.04 698.25,280.60 699.00,281.19 699.80,284.55 700.60,287.73 701.55,287.67 702.50,287.26 703.45,287.37 704.40,287.01 705.45,286.39 706.50,285.54 707.30,283.07 708.10,281.09 709.05,283.80 710.00,286.28 710.75,288.04 711.50,289.95 712.50,289.44 713.25,287.54 714.00,285.62 714.80,287.88 715.60,290.06 716.55,292.31 717.50,294.94 718.45,294.79 719.40,294.10 720.33,294.60 721.25,294.64 722.17,296.81 723.10,299.35 723.75,300.48 724.69,302.01 725.62,303.14 726.56,304.84 727.50,306.15 728.75,307.25 730.00,308.79 731.25,311.28 732.50,313.78 733.62,311.67 734.75,309.74 735.62,310.65 736.50,311.86 737.30,316.72 738.10,321.33 739.35,323.82 740.60,326.81 741.55,331.76 742.50,336.28 743.25,337.79 744.00,338.93 745.00,337.70 746.00,336.44 746.75,339.39 747.50,341.87 748.75,343.54 750.00,345.12 751.25,348.02 752.50,351.26 753.75,348.27 755.00,345.10 756.25,342.76 757.50,340.57 758.75,340.68 760.00,341.34 761.12,340.67 762.25,340.50 763.12,338.59 764.00,336.50 765.12,339.11 766.25,341.45 767.17,340.75 768.08,339.41 769.00,338.68 770.12,336.35 771.25,333.65 772.17,330.81 773.10,328.15 774.35,321.67 775.60,314.95 776.85,315.09 778.10,315.57 779.35,313.44 780.60,310.97 781.85,312.27 783.10,314.05 784.07,313.74 785.03,313.65 786.00,313.21 787.05,318.67 788.10,323.74 789.35,325.81 790.60,327.45 791.55,330.19 792.50,333.08 793.75,335.56 795.00,337.59 796.03,338.27 797.07,339.25 798.10,340.22 798.92,340.17 799.75,340.22 800.50,341.18 801.25,342.18 802.17,341.04 803.10,339.82" fill="none" stroke="#F8766D" stroke-width="1.42" stroke-linejoin="round"/>
<polyline points="83.00,254.50 84.08,254.98 85.17,255.59 86.25,256.04 87.50,252.16 88.75,248.63 90.00,249.55 91.25,250.45 92.25,248.44 93.25,246.11 94.25,243.77 95.50,246.91 96.75,250.04 97.67,247.95 98.58,246.30 99.50,244.42 100.75,246.87 102.00,248.64 102.88,250.50 103.75,251.62 104.62,253.55 105.50,254.96 106.75,252.44 108.00,250.08 109.25,251.96 110.50,254.39 111.58,251.75 112.67,248.51 113.75,245.40 115.00,245.54 116.25,245.11 117.25,242.68 118.25,240.79 119.25,238.66 120.25,239.26 121.25,240.03 122.25,237.30 123.25,235.05 124.25,236.73 125.25,238.80 126.25,241.08 127.25,239.82 128.25,238.73 129.25,242.14 130.25,245.40 131.25,248.72 132.12,248.84 133.00,249.55 134.08,251.95 135.17,254.12 136.25,256.04 137.50,257.91 138.75,259.97 140.00,260.61 141.25,261.04 142.50,259.64 143.75,258.69 145.00,260.79 146.25,263.00 147.33,261.19 148.42,259.00 149.50,256.89 150.38,257.69 151.25,257.98 152.50,256.51 153.75,254.93 154.83,254.29 155.92,253.60 157.00,253.07 158.00,250.93 159.00,249.36 160.00,247.42 161.00,251.37 162.00,254.72 163.00,258.70 164.00,258.16 165.00,257.78 166.00,259.48 167.00,261.73 168.00,263.68 169.12,262.24 170.25,260.99 171.17,263.28 172.08,264.99 173.00,267.11 173.88,266.80 174.75,267.10 176.00,269.42 177.25,271.93 178.37,271.40 179.48,270.75 180.60,269.63 181.80,274.99 183.00,280.56 184.00,282.16 185.00,283.94 186.25,283.63 187.30,285.14 188.35,287.15 189.40,288.87 190.32,289.67 191.25,290.00 192.00,289.41 192.75,289.36 193.70,289.77 194.65,290.00 195.60,290.03 196.43,285.96 197.25,282.26 198.32,283.31 199.40,284.43 200.43,281.04 201.47,278.23 202.50,274.84 203.45,275.67 204.40,276.95 205.43,273.56 206.47,269.53 207.50,266.11 208.62,267.38 209.75,268.80 210.69,266.37 211.62,263.58 212.56,261.12 213.50,258.69 214.55,259.78 215.60,260.65 216.55,260.08 217.50,260.09 218.75,263.58 220.00,267.19 221.00,267.29 222.00,267.70 223.00,267.51 223.87,269.24 224.73,271.09 225.60,272.61 226.70,274.28 227.80,275.70 228.90,277.43 230.00,279.10 230.94,277.86 231.88,276.42 232.81,274.97 233.75,273.72 235.00,274.46 235.94,272.84 236.88,270.91 237.81,269.73 238.75,268.10 239.88,268.88 241.00,269.50 242.00,269.01 243.00,268.15 244.00,267.57 245.00,268.18 246.00,268.90 246.98,266.90 247.97,264.85 248.95,263.21 249.93,261.05 250.92,258.94 251.90,256.93 252.85,257.51 253.80,258.59 254.75,259.45 255.69,257.46 256.62,255.50 257.56,253.72 258.50,251.86 259.75,252.56 261.00,252.91 261.92,251.34 262.83,250.05 263.75,248.80 265.00,248.81 265.92,245.26 266.83,241.84 267.75,237.97 268.88,239.02 270.00,240.60 271.00,237.70 272.00,234.67 273.00,232.04 274.00,233.10 275.00,234.34 276.25,230.60 277.50,227.11 278.75,226.95 280.00,227.47 281.25,223.62 282.50,219.93 283.75,219.33 285.00,218.68 285.94,217.75 286.88,216.25 287.81,215.12 288.75,213.67 290.00,215.60 291.25,217.53 292.33,214.54 293.42,211.02 294.50,207.99 295.75,209.46 297.00,210.58 297.88,208.65 298.75,207.15 299.62,205.59 300.50,203.72 301.44,201.17 302.38,198.47 303.31,195.97 304.25,193.01 305.25,195.98 306.25,198.71 307.50,199.26 308.75,199.46 309.83,202.33 310.92,205.08 312.00,207.95 313.25,207.28 314.50,206.93 315.50,210.11 316.50,213.02 317.50,216.14 318.38,214.81 319.25,212.95 320.17,216.43 321.08,219.39 322.00,222.47 323.00,223.97 324.00,225.24 325.00,226.21 326.00,229.36 327.00,233.00 328.00,236.33 329.00,235.32 330.00,234.32 330.94,236.38 331.88,238.70 332.81,240.67 333.75,242.98 335.00,241.18 336.25,239.47 337.12,241.94 338.00,244.57 339.00,243.93 340.00,243.68 340.94,246.67 341.88,250.16 342.81,252.95 343.75,255.89 345.00,256.95 346.25,257.59 347.50,263.94 348.75,269.97 350.00,268.27 351.25,266.20 352.50,267.91 353.75,270.09 354.62,269.20 355.50,267.93 356.58,272.23 357.67,275.71 358.75,279.95 359.83,278.46 360.92,277.30 362.00,276.17 362.88,277.00 363.75,277.45 365.00,275.06 366.25,272.92 367.33,275.22 368.42,277.88 369.50,280.03 370.38,280.39 371.25,281.29 372.33,284.61 373.42,287.89 374.50,291.26 375.50,294.67 376.50,298.10 377.50,301.25 378.75,301.96 380.00,302.49 381.00,304.08 382.00,305.43 383.00,306.98 384.08,306.76 385.17,306.63 386.25,306.20 387.50,307.13 388.75,307.50 390.00,303.96 391.25,300.05 392.50,300.90 393.75,301.29 394.83,297.87 395.92,294.53 397.00,291.28 398.25,290.15 399.50,288.83 400.50,286.44 401.50,284.32 402.50,282.41 403.75,282.00 405.00,281.89 406.00,280.62 407.00,279.68 408.00,278.66 409.00,280.99 410.00,283.03 411.25,281.78 412.50,280.11 413.50,281.40 414.50,282.77 415.50,283.64 416.50,284.21 417.50,285.10 418.50,286.24 419.50,287.43 420.75,285.15 422.00,282.48 423.00,285.86 424.00,289.06 425.00,292.44 426.00,291.42 427.00,290.90 428.00,290.11 429.25,291.54 430.50,292.56 431.58,295.68 432.67,298.25 433.75,301.20 435.00,304.63 436.25,307.52 437.50,309.48 438.75,311.13 440.00,314.84 441.25,318.75 442.33,319.47 443.42,320.11 444.50,320.56 445.38,319.90 446.25,319.47 447.50,317.22 448.75,314.62 449.69,314.12 450.62,313.57 451.56,313.45 452.50,313.01 453.75,312.04 455.00,311.19 455.94,309.93 456.88,308.82 457.81,307.28 458.75,306.26 460.00,306.90 461.25,307.06 462.50,308.10 463.75,309.48 465.00,308.26 466.25,307.56 467.50,308.83 468.75,309.92 470.00,312.53 471.25,315.02 472.33,315.88 473.42,316.59 474.50,317.45 475.50,318.41 476.50,319.80 477.50,320.46 478.50,320.88 479.50,321.24 480.50,319.97 481.50,319.02 482.50,317.93 483.50,317.39 484.50,316.97 485.38,318.16 486.25,319.61 487.50,315.88 488.75,312.46 490.00,310.72 491.25,308.73 492.50,308.38 493.75,308.04 494.69,306.37 495.62,305.35 496.56,303.64 497.50,302.44 498.75,304.56 500.00,306.37 501.25,303.85 502.50,301.17 503.50,299.96 504.50,298.70 505.50,299.79 506.50,300.26 507.50,301.18 508.75,300.71 510.00,300.03 510.94,298.49 511.88,296.86 512.81,295.59 513.75,293.74 515.00,292.14 516.25,289.97 517.33,287.48 518.42,284.92 519.50,282.55 520.75,283.28 522.00,283.69 523.00,282.10 524.00,280.55 525.00,278.75 526.25,280.10 527.50,281.28 528.44,280.44 529.38,279.29 530.31,278.32 531.25,277.39 532.19,277.11 533.12,276.42 534.06,275.56 535.00,275.11 536.25,277.74 537.50,279.92 538.75,282.08 540.00,283.73 541.00,284.89 542.00,286.11 543.00,287.48 544.25,285.73 545.50,284.39 546.75,284.52 548.00,284.95 549.08,284.13 550.17,283.44 551.25,283.08 552.50,282.43 553.75,282.00 555.00,280.06 556.25,278.10 557.33,275.62 558.42,273.50 559.50,271.59 560.50,271.91 561.50,272.09 562.50,272.01 563.62,269.86 564.75,267.69 565.88,266.06 567.00,263.81 568.00,264.86 569.00,266.09 570.00,266.94 570.94,266.83 571.88,266.87 572.81,266.20 573.75,266.28 574.69,268.12 575.62,270.58 576.56,272.64 577.50,274.53 578.50,273.96 579.50,273.21 580.50,273.00 581.58,274.00 582.67,275.11 583.75,276.15 584.83,275.92 585.92,275.10 587.00,274.51 588.00,273.62 589.00,272.57 590.00,271.26 591.00,272.11 592.00,273.12 593.00,273.72 594.00,274.62 595.00,274.89 596.00,274.68 597.00,274.02 598.00,273.57 599.00,273.29 600.00,272.43 601.00,274.38 602.13,275.81 603.27,277.01 604.40,278.11 605.45,276.59 606.50,274.79 607.44,277.06 608.38,279.02 609.31,280.93 610.25,283.05 611.08,281.80 611.90,280.91 612.83,280.98 613.75,281.61 615.00,281.16 616.03,280.26 617.07,278.93 618.10,278.21 619.35,276.07 620.60,273.92 621.85,276.57 623.10,278.84 624.35,280.79 625.60,282.18 626.67,279.52 627.75,276.94 629.00,274.27 630.25,271.92 631.38,272.95 632.50,273.81 633.45,274.87 634.40,275.66 635.33,276.72 636.25,278.16 637.17,276.81 638.10,275.52 639.05,275.64 640.00,276.28 640.95,275.66 641.90,275.15 642.83,277.92 643.75,280.58 645.00,282.70 646.25,285.02 647.17,283.77 648.10,282.51 649.05,281.84 650.00,280.70 650.75,280.30 651.50,280.34 652.47,278.31 653.43,276.85 654.40,274.64 655.33,275.52 656.25,276.60 657.00,276.97 657.75,277.30 658.75,276.25 659.75,275.51 661.00,277.01 661.75,275.69 662.50,274.92 663.50,275.58 664.42,274.34 665.33,272.81 666.25,271.37 667.17,270.67 668.10,269.73 668.92,270.12 669.75,269.96 671.00,270.49 671.75,269.83 672.50,268.59 673.75,267.80 675.00,266.90 675.95,265.15 676.90,263.68 678.15,261.12 679.40,258.90 680.60,258.49 681.85,255.11 683.10,251.35 684.40,249.75 685.33,249.23 686.25,248.49 687.17,249.12 688.10,249.45 689.17,249.24 690.25,248.58 691.08,249.98 691.90,251.27 692.65,252.30 693.40,253.74 694.33,251.97 695.25,250.17 696.38,248.07 697.50,246.23 698.30,245.13 699.10,244.43 699.85,246.60 700.60,249.12 701.42,248.66 702.25,248.10 703.50,249.38 704.25,248.51 705.00,247.68 706.00,249.11 707.25,247.85 708.00,248.97 708.75,250.04 710.00,249.66 710.75,250.65 711.50,251.42 712.30,251.14 713.10,251.02 713.92,251.43 714.75,252.19 715.50,251.56 716.25,250.60 717.50,251.99 718.25,250.62 719.00,249.65 720.00,250.36 720.75,247.57 721.50,244.80 722.30,246.46 723.10,248.02 723.92,250.46 724.75,252.25 725.62,252.32 726.50,251.82 727.62,253.02 728.75,254.41 730.00,256.92 731.25,259.84 732.17,259.23 733.10,258.90 734.05,258.35 735.00,258.05 735.80,258.07 736.60,257.59 737.35,259.80 738.10,261.88 738.92,263.17 739.75,265.08 740.50,266.03 741.25,267.43 742.17,270.38 743.08,273.55 744.00,276.17 745.00,275.66 746.00,275.70 746.88,276.55 747.75,278.16 748.88,279.13 750.00,280.55 750.95,281.07 751.90,281.89 753.15,282.33 754.40,282.33 755.45,281.45 756.50,280.50 757.30,281.98 758.10,283.70 759.05,286.10 760.00,288.20 760.95,287.52 761.90,287.46 762.70,286.65 763.50,285.17 764.75,286.87 766.00,288.94 767.05,287.53 768.10,285.54 769.05,284.81 770.00,283.66 771.00,284.06 772.00,283.98 773.00,284.42 774.08,281.83 775.17,279.19 776.25,276.23 777.17,278.21 778.08,279.53 779.00,281.36 779.88,280.62 780.75,279.80 781.62,278.39 782.50,277.70 783.44,278.37 784.38,278.98 785.31,279.10 786.25,279.81 787.50,282.86 788.75,285.88 789.67,286.20 790.60,286.78 791.80,288.59 793.00,290.70 793.87,293.01 794.73,295.42 795.60,297.60 796.65,298.07 797.70,298.88 798.75,299.44 799.88,302.02 801.00,304.30 802.00,303.56 803.00,302.17" fill="none" stroke="#00BFC4" stroke-width="1.42" stroke-linejoin="round"/>
<rect x="553.1" y="7.33" width="72.00" height="428.07" fill="#ff0000" fill-opacity="0.1"/>
<line x1="625.25" x2="625.25" y1="435.30" y2="7.33" stroke="#000" stroke-width="1.42" stroke-dasharray="1.42 4.27 5.69 4.27"/>
<rect x="46.40" y="7.33" width="792.25" height="428.07" fill="none" stroke="#333333" stroke-width="1.42"/>
</g>
<g stroke="#333333" stroke-width="1.42">
<line x1="42.73" x2="46.40" y1="27.95" y2="27.95"/>
<line x1="42.73" x2="46.40" y1="137.53" y2="137.53"/>
<line x1="42.73" x2="46.40" y1="247.12" y2="247.12"/>
<line x1="42.73" x2="46.40" y1="356.70" y2="356.70"/>
<line x1="363.00" x2="363.00" y1="435.40" y2="439.07"/>
<line x1="671.50" x2="671.50" y1="435.40" y2="439.07"/>
</g>
<g font-family="'Liberation Sans', Arial, Helvetica, sans-serif" font-size="12.3px" fill="#4d4d4d">
<text transform="translate(39.6,32.00) scale(1,1.05)" text-anchor="end">50</text>
<text transform="translate(39.6,141.58) scale(1,1.05)" text-anchor="end">40</text>
<text transform="translate(39.6,251.17) scale(1,1.05)" text-anchor="end">30</text>
<text transform="translate(39.6,360.75) scale(1,1.05)" text-anchor="end">20</text>
<text transform="translate(362,450.8) scale(1,1.05)" text-anchor="middle">2020-02-01</text>
<text transform="translate(670.9,450.8) scale(1,1.05)" text-anchor="middle">2020-04-01</text>
</g>
<g font-family="'Liberation Sans', Arial, Helvetica, sans-serif" font-size="14.67px" fill="#000">
<text x="443" y="468.7" text-anchor="middle">date</text>
<text transform="translate(18,221.1) rotate(-89.97) scale(1,1.09)" text-anchor="middle" textLength="233.8" lengthAdjust="spacing">NO2 concentration 14 d rolling mean</text>
<text x="860.7" y="199.8" textLength="49.6" lengthAdjust="spacing">variable</text>
</g>
<line x1="863.2" x2="881.9" y1="221" y2="221" stroke="#F8766D" stroke-width="1.42"/>
<line x1="863.2" x2="881.9" y1="244" y2="244" stroke="#00BFC4" stroke-width="1.42"/>
<g font-family="'Liberation Sans', Arial, Helvetica, sans-serif" font-size="12.3px" fill="#000">
<text x="890.8" y="225.8">value</text>
<text x="890.5" y="248.8" textLength="54.9" lengthAdjust="spacing">prediction</text>
</g>
</svg>
</body>
</html>
